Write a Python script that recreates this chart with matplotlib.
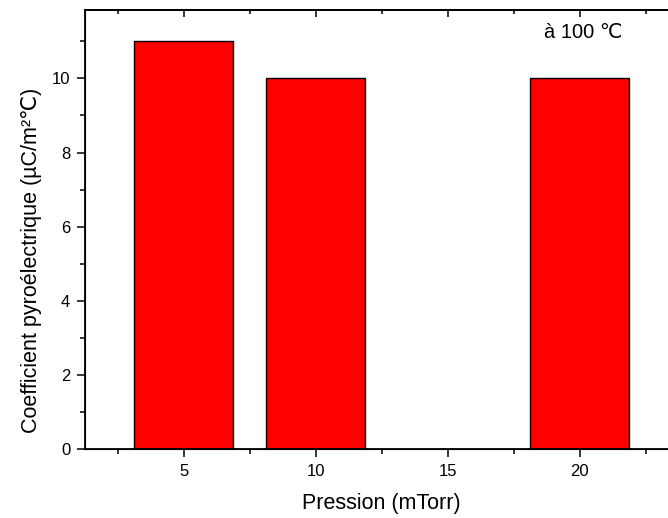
import matplotlib.pyplot as plt
from matplotlib.ticker import MultipleLocator

plt.rcParams['font.family'] = ['Liberation Sans', 'DejaVu Sans']

# données
pressions = [5, 10, 20]
coefficients = [11, 10, 10]
note = "à 100 ℃"

fig = plt.figure(figsize=(6.68, 5.18), dpi=100)
# l'axe droit sort de l'image (comme dans l'original)
ax = fig.add_axes([0.127, 0.133, 0.889, 0.848])

ax.bar(pressions, coefficients, width=3.75, color='#ff0000', edgecolor='black', linewidth=1.0)

ax.set_xlim(1.25, 23.75)
ax.set_ylim(0, 11.85)
ax.xaxis.set_major_locator(MultipleLocator(5))
ax.xaxis.set_minor_locator(MultipleLocator(2.5))
ax.yaxis.set_major_locator(MultipleLocator(2))
ax.yaxis.set_minor_locator(MultipleLocator(1))

ax.tick_params(which='both', direction='out', top=False, right=False, labelsize=12, width=1.1, pad=5)
ax.tick_params(which='major', length=5.5)
ax.tick_params(which='minor', length=3.5)

# ticks du haut (miroir, vers l'intérieur)
top = ax.twiny()
top.set_xlim(ax.get_xlim())
top.xaxis.set_major_locator(MultipleLocator(5))
top.xaxis.set_minor_locator(MultipleLocator(2.5))
top.tick_params(which='both', direction='in', labeltop=False, width=1.1)
top.tick_params(which='major', length=5)
top.tick_params(which='minor', length=3)
top.spines['top'].set_linewidth(1.3)

for s in ['left', 'bottom', 'top', 'right']:
    ax.spines[s].set_linewidth(1.3)

ax.set_xlabel("Pression (mTorr)", fontsize=15.5, labelpad=10)
ax.set_ylabel("Coefficient pyroélectrique (µC/m²℃)", fontsize=15.5)
ax.yaxis.set_label_coords(-0.072, 0.43)

ax.text(18.65, 11.25, note, fontsize=14.5, ha='left', va='center')

fig.savefig("out.png", dpi=100)
